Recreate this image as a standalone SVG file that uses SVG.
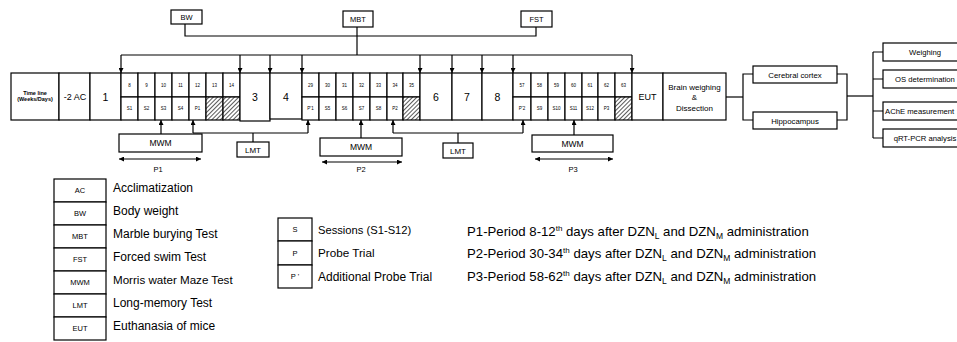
<svg xmlns="http://www.w3.org/2000/svg" width="957" height="342" viewBox="0 0 957 342">
<style>
.b{fill:#fff;stroke:#000;stroke-width:1.2}
.l{fill:none;stroke:#000;stroke-width:1.2}
.h{fill:url(#hatch);stroke:#000;stroke-width:1.2}
text{font-family:"Liberation Sans",Arial,sans-serif;fill:#000}
.t{font-size:5.5px;text-anchor:middle;font-weight:bold}
.tn{font-size:4.5px;text-anchor:middle}
.m{font-size:8px;text-anchor:middle}
.w{font-size:8.5px;text-anchor:middle}
.d{font-size:10.5px;text-anchor:middle}
.r{font-size:7.7px;text-anchor:middle}
.lg{font-size:12px}
.pd{font-size:13.2px}
.ls{font-size:7.5px;text-anchor:middle}
</style>
<defs>
<marker id="ar" viewBox="0 0 6 6" refX="6" refY="3" markerWidth="5" markerHeight="5" orient="auto" markerUnits="userSpaceOnUse"><path d="M0,0L6,3L0,6z" fill="#000"/></marker>
<marker id="as" viewBox="0 0 6 6" refX="0" refY="3" markerWidth="5" markerHeight="5" orient="auto" markerUnits="userSpaceOnUse"><path d="M6,0L0,3L6,6z" fill="#000"/></marker>
<pattern id="hatch" width="3" height="3" patternUnits="userSpaceOnUse" patternTransform="rotate(45)"><rect width="3" height="3" fill="#fff"/><line x1="0" y1="0" x2="0" y2="3" stroke="#000" stroke-width="1.3"/></pattern>
</defs>

<g id="connectors">
<path class="l" d="M185,24V36H536V27"/>
<path class="l" d="M357,27V55"/>
<path class="l" d="M121,55H632"/>
<path class="l" marker-end="url(#ar)" d="M121,55V73"/>
<path class="l" marker-end="url(#ar)" d="M240,55V73"/>
<path class="l" marker-end="url(#ar)" d="M270,55V73"/>
<path class="l" marker-end="url(#ar)" d="M302,55V73"/>
<path class="l" marker-end="url(#ar)" d="M420,55V73"/>
<path class="l" marker-end="url(#ar)" d="M452,55V73"/>
<path class="l" marker-end="url(#ar)" d="M482,55V73"/>
<path class="l" marker-end="url(#ar)" d="M513,55V73"/>
<path class="l" marker-end="url(#ar)" d="M632,55V73"/>
<path class="l" marker-end="url(#ar)" d="M161,134V120"/>
<path class="l" d="M253,142V133"/>
<path class="l" d="M193,133H308"/>
<path class="l" marker-end="url(#ar)" d="M193,133V120"/>
<path class="l" marker-end="url(#ar)" d="M308,133V120"/>
<path class="l" marker-end="url(#ar)" d="M361,138V120"/>
<path class="l" d="M458,143V133"/>
<path class="l" d="M393,133H523"/>
<path class="l" marker-end="url(#ar)" d="M393,133V120"/>
<path class="l" marker-end="url(#ar)" d="M523,133V120"/>
<path class="l" marker-end="url(#ar)" d="M574,135V120"/>
<path class="l" marker-start="url(#as)" marker-end="url(#ar)" d="M119,159H201"/>
<path class="l" marker-start="url(#as)" marker-end="url(#ar)" d="M322,162H402"/>
<path class="l" marker-start="url(#as)" marker-end="url(#ar)" d="M535,159H613"/>
<path class="l" d="M726,97H743"/>
<path class="l" d="M753,74H743V120H753"/>
<path class="l" d="M837,74H847V120H837"/>
<path class="l" d="M847,96H873"/>
<path class="l" d="M873,52V138"/>
<path class="l" d="M873,52H883M873,79H883M873,111H883M873,138H883"/>
</g>

<g id="node-bw"><rect class="b" x="171" y="10" width="31" height="14"/><text class="m" x="186.5" y="20" style="font-size:7.5px">BW</text></g>
<g id="node-mbt"><rect class="b" x="343" y="11" width="30" height="16"/><text class="m" x="358" y="21.5" style="font-size:7.5px">MBT</text></g>
<g id="node-fst"><rect class="b" x="521" y="11" width="31" height="16"/><text class="m" x="536.5" y="21.5" style="font-size:7.5px">FST</text></g>

<g id="timeline">
<rect class="b" x="11" y="73" width="48" height="47"/>
<text class="t" x="35" y="95">Time line</text>
<text class="t" x="35" y="101">(Weeks/Days)</text>
<rect class="b" x="59" y="73" width="31" height="47"/><text class="w" x="75" y="100" style="font-size:9px">-2 AC</text>
<rect class="b" x="90" y="73" width="31" height="47"/><text class="d" x="105.5" y="100.5">1</text>
</g>

<g id="week2">
<rect class="b" x="121" y="73" width="17" height="24"/><rect class="b" x="138" y="73" width="17" height="24"/><rect class="b" x="155" y="73" width="17" height="24"/><rect class="b" x="172" y="73" width="17" height="24"/><rect class="b" x="189" y="73" width="17" height="24"/><rect class="b" x="206" y="73" width="17" height="24"/><rect class="b" x="223" y="73" width="17" height="24"/>
<rect class="b" x="121" y="97" width="17" height="23"/><rect class="b" x="138" y="97" width="17" height="23"/><rect class="b" x="155" y="97" width="17" height="23"/><rect class="b" x="172" y="97" width="17" height="23"/><rect class="b" x="189" y="97" width="17" height="23"/><rect class="h" x="206" y="97" width="17" height="23"/><rect class="h" x="223" y="97" width="17" height="23"/>
<text class="tn" x="129.5" y="86.5">8</text><text class="tn" x="146.5" y="86.5">9</text><text class="tn" x="163.5" y="86.5">10</text><text class="tn" x="180.5" y="86.5">11</text><text class="tn" x="197.5" y="86.5">12</text><text class="tn" x="214.5" y="86.5">13</text><text class="tn" x="231.5" y="86.5">14</text>
<text class="tn" x="129.5" y="110">S1</text><text class="tn" x="146.5" y="110">S2</text><text class="tn" x="163.5" y="110">S3</text><text class="tn" x="180.5" y="110">S4</text><text class="tn" x="197.5" y="110">P1</text>
</g>

<g id="week3"><rect class="b" x="240" y="73" width="30" height="48"/><text class="d" x="255" y="100.5">3</text></g>
<g id="week4"><rect class="b" x="270" y="73" width="32" height="46"/><text class="d" x="286" y="100.5">4</text></g>

<g id="week5">
<rect class="b" x="302" y="73" width="17" height="24"/><rect class="b" x="319" y="73" width="17" height="24"/><rect class="b" x="336" y="73" width="17" height="24"/><rect class="b" x="353" y="73" width="17" height="24"/><rect class="b" x="370" y="73" width="17" height="24"/><rect class="b" x="387" y="73" width="16" height="24"/><rect class="b" x="403" y="73" width="17" height="24"/>
<rect class="b" x="302" y="97" width="17" height="23"/><rect class="b" x="319" y="97" width="17" height="23"/><rect class="b" x="336" y="97" width="17" height="23"/><rect class="b" x="353" y="97" width="17" height="23"/><rect class="b" x="370" y="97" width="17" height="23"/><rect class="b" x="387" y="97" width="16" height="23"/><rect class="h" x="403" y="97" width="17" height="23"/>
<text class="tn" x="310.5" y="86.5">29</text><text class="tn" x="327.5" y="86.5">30</text><text class="tn" x="344.5" y="86.5">31</text><text class="tn" x="361.5" y="86.5">32</text><text class="tn" x="378.5" y="86.5">33</text><text class="tn" x="395" y="86.5">34</text><text class="tn" x="411.5" y="86.5">35</text>
<text class="tn" x="310.5" y="110">P'1</text><text class="tn" x="327.5" y="110">S5</text><text class="tn" x="344.5" y="110">S6</text><text class="tn" x="361.5" y="110">S7</text><text class="tn" x="378.5" y="110">S8</text><text class="tn" x="395" y="110">P2</text>
</g>

<g id="week6"><rect class="b" x="420" y="73" width="32" height="47"/><text class="d" x="436" y="100.5">6</text></g>
<g id="week7"><rect class="b" x="452" y="73" width="30" height="47"/><text class="d" x="467" y="100.5">7</text></g>
<g id="week8"><rect class="b" x="482" y="73" width="31" height="47"/><text class="d" x="497.5" y="100.5">8</text></g>

<g id="week9">
<rect class="b" x="513" y="73" width="18" height="24"/><rect class="b" x="531" y="73" width="17" height="24"/><rect class="b" x="548" y="73" width="17" height="24"/><rect class="b" x="565" y="73" width="17" height="24"/><rect class="b" x="582" y="73" width="16" height="24"/><rect class="b" x="598" y="73" width="17" height="24"/><rect class="b" x="615" y="73" width="17" height="24"/>
<rect class="b" x="513" y="97" width="18" height="23"/><rect class="b" x="531" y="97" width="17" height="23"/><rect class="b" x="548" y="97" width="17" height="23"/><rect class="b" x="565" y="97" width="17" height="23"/><rect class="b" x="582" y="97" width="16" height="23"/><rect class="b" x="598" y="97" width="17" height="23"/><rect class="h" x="615" y="97" width="17" height="23"/>
<text class="tn" x="522" y="86.5">57</text><text class="tn" x="539.5" y="86.5">58</text><text class="tn" x="556.5" y="86.5">59</text><text class="tn" x="573.5" y="86.5">60</text><text class="tn" x="590" y="86.5">61</text><text class="tn" x="606.5" y="86.5">62</text><text class="tn" x="623.5" y="86.5">63</text>
<text class="tn" x="522" y="110">P'2</text><text class="tn" x="539.5" y="110">S9</text><text class="tn" x="556.5" y="110">S10</text><text class="tn" x="573.5" y="110">S11</text><text class="tn" x="590" y="110">S12</text><text class="tn" x="606.5" y="110">P3</text>
</g>

<g id="node-eut"><rect class="b" x="632" y="73" width="31" height="47"/><text class="w" x="647.5" y="100" style="font-size:9px">EUT</text></g>
<g id="node-brain"><rect class="b" x="663" y="73" width="63" height="47"/>
<text class="m" x="694.5" y="90">Brain weighing</text><text class="m" x="694.5" y="100">&amp;</text><text class="m" x="694.5" y="111">Dissection</text></g>

<g id="node-cortex"><rect class="b" x="753" y="66" width="84" height="17"/><text class="m" x="795" y="77.5" style="font-size:7.8px">Cerebral cortex</text></g>
<g id="node-hippo"><rect class="b" x="753" y="112" width="84" height="17"/><text class="m" x="795" y="123.5" style="font-size:7.8px">Hippocampus</text></g>

<g id="node-weighing"><rect class="b" x="883" y="43" width="85" height="18"/><text class="r" x="925" y="55">Weighing</text></g>
<g id="node-os"><rect class="b" x="883" y="70" width="85" height="18"/><text class="r" x="925" y="82">OS determination</text></g>
<g id="node-ache"><rect class="b" x="883" y="102" width="85" height="18"/><text class="r" x="885" y="114" style="text-anchor:start">AChE measurement</text></g>
<g id="node-qrt"><rect class="b" x="883" y="129" width="85" height="18"/><text class="r" x="925" y="141">qRT-PCR analysis</text></g>

<g id="node-mwm1"><rect class="b" x="119" y="134" width="83" height="18"/><text class="w" x="160.5" y="146">MWM</text></g>
<g id="node-lmt1"><rect class="b" x="237" y="142" width="32" height="15"/><text class="m" x="253" y="152.5">LMT</text></g>
<g id="node-mwm2"><rect class="b" x="320" y="138" width="82" height="18"/><text class="w" x="361" y="150">MWM</text></g>
<g id="node-lmt2"><rect class="b" x="443" y="143" width="30" height="15"/><text class="m" x="458" y="153.5">LMT</text></g>
<g id="node-mwm3"><rect class="b" x="532" y="135" width="81" height="17"/><text class="w" x="572.5" y="146.5">MWM</text></g>

<g id="period-labels">
<text class="m" x="158" y="172" style="font-size:7.5px">P1</text>
<text class="m" x="361" y="172" style="font-size:7.5px">P2</text>
<text class="m" x="573" y="172" style="font-size:7.5px">P3</text>
</g>

<g id="legend1">
<rect class="b" x="54" y="179" width="52" height="23"/><rect class="b" x="54" y="202" width="52" height="23"/><rect class="b" x="54" y="225" width="52" height="23"/><rect class="b" x="54" y="248" width="52" height="23"/><rect class="b" x="54" y="271" width="52" height="23"/><rect class="b" x="54" y="294" width="52" height="23"/><rect class="b" x="54" y="317" width="52" height="23"/>
<text class="ls" x="80" y="193">AC</text><text class="ls" x="80" y="216">BW</text><text class="ls" x="80" y="239">MBT</text><text class="ls" x="80" y="262">FST</text><text class="ls" x="80" y="285">MWM</text><text class="ls" x="80" y="308">LMT</text><text class="ls" x="80" y="331">EUT</text>
<text class="lg" x="113" y="192">Acclimatization</text>
<text class="lg" x="113" y="215">Body weight</text>
<text class="lg" x="113" y="238">Marble burying Test</text>
<text class="lg" x="113" y="261">Forced swim Test</text>
<text class="lg" x="113" y="284" style="font-size:11.6px">Morris water Maze Test</text>
<text class="lg" x="113" y="307">Long-memory Test</text>
<text class="lg" x="113" y="330">Euthanasia of mice</text>
</g>

<g id="legend2">
<rect class="b" x="278" y="218" width="34" height="23"/><rect class="b" x="278" y="241" width="34" height="24"/><rect class="b" x="278" y="265" width="34" height="23"/>
<text class="ls" x="295" y="232">S</text><text class="ls" x="295" y="256">P</text><text class="ls" x="295" y="279">P '</text>
<text class="lg" x="318" y="234" style="font-size:11.2px">Sessions (S1-S12)</text>
<text class="lg" x="318" y="257" style="font-size:11.7px">Probe Trial</text>
<text class="lg" x="318" y="281">Additional Probe Trial</text>
</g>

<g id="periods">
<text class="pd" x="467" y="236">P1-Period 8-12<tspan style="font-size:8px" dy="-5">th</tspan><tspan dy="5"> days after DZN</tspan><tspan style="font-size:8.5px" dy="3">L</tspan><tspan dy="-3"> and DZN</tspan><tspan style="font-size:8.5px" dy="3">M</tspan><tspan dy="-3"> administration</tspan></text>
<text class="pd" x="467" y="258">P2-Period 30-34<tspan style="font-size:8px" dy="-5">th</tspan><tspan dy="5"> days after DZN</tspan><tspan style="font-size:8.5px" dy="3">L</tspan><tspan dy="-3"> and DZN</tspan><tspan style="font-size:8.5px" dy="3">M</tspan><tspan dy="-3"> administration</tspan></text>
<text class="pd" x="467" y="281">P3-Period 58-62<tspan style="font-size:8px" dy="-5">th</tspan><tspan dy="5"> days after DZN</tspan><tspan style="font-size:8.5px" dy="3">L</tspan><tspan dy="-3"> and DZN</tspan><tspan style="font-size:8.5px" dy="3">M</tspan><tspan dy="-3"> administration</tspan></text>
</g>
</svg>
